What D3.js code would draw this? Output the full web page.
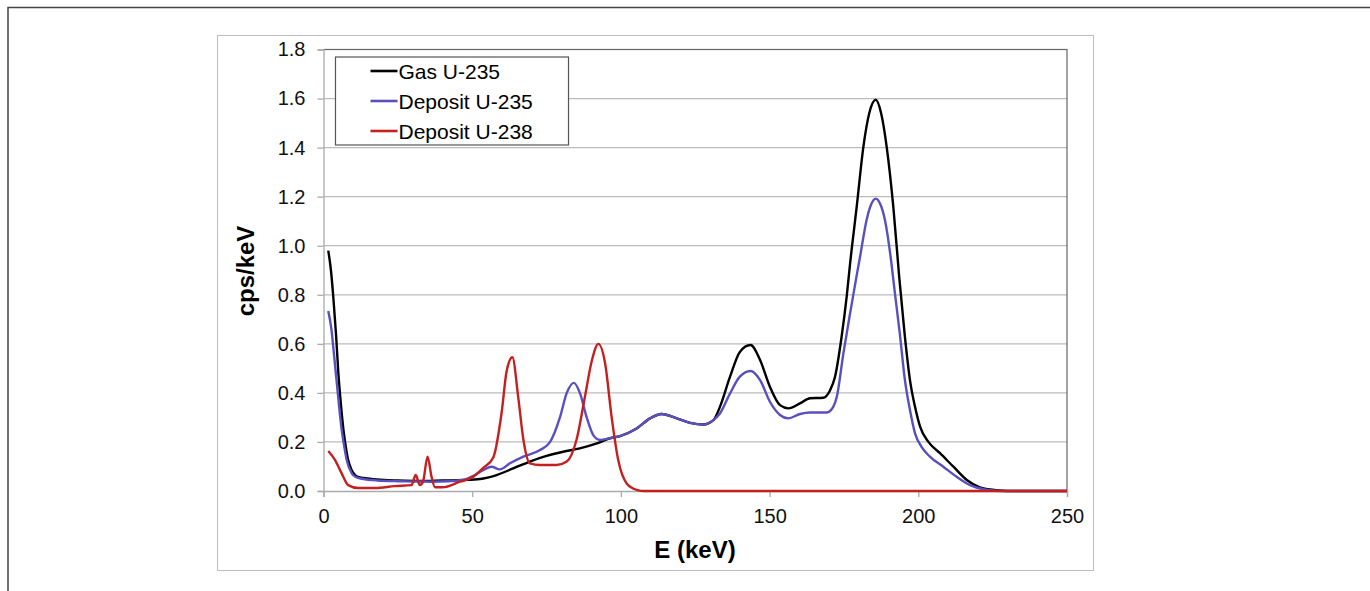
<!DOCTYPE html>
<html>
<head>
<meta charset="utf-8">
<script src="https://cdn.jsdelivr.net/npm/d3@7"></script>
<style>
  body { margin: 0; background: #fff; }
  svg { display: block; font-family: "Liberation Sans", Arial, sans-serif; }
</style>
</head>
<body>
<svg id="chart"></svg>
<script>
// series names
var seriesNames = ["Gas U-235", "Deposit U-235", "Deposit U-238"];
var seriesColors = ["#000000", "#5a4fbf", "#c42020"];

// Gas U-235 (E keV, cps/keV)
var gasE = [1.6, 2.5, 3.3, 4.2, 5.0, 5.8, 6.7, 7.5, 8.3, 9.5, 10.6, 12, 14, 18, 25, 32, 40, 47, 52.6, 58.2, 63.8, 69.4, 75, 80.6, 86.2, 91.9, 96.3, 99.7, 105.3, 109.8, 113.7, 118.8, 123.3, 127.7, 131.1, 133.3, 136.7, 140, 143.6, 146.8, 150.1, 153.5, 156.3, 160.2, 163.6, 168, 170.3, 172, 174.2, 175.9, 177, 179.3, 181.5, 183.5, 185.7, 187.5, 189.4, 191.6, 193.6, 195.5, 197.2, 198.9, 200.6, 203.4, 207.3, 211.8, 216.3, 220.7, 226.4, 230, 250];
var gasV = [0.98, 0.90, 0.79, 0.64, 0.48, 0.36, 0.25, 0.18, 0.126, 0.085, 0.065, 0.056, 0.052, 0.047, 0.043, 0.041, 0.043, 0.045, 0.049, 0.065, 0.092, 0.12, 0.143, 0.16, 0.174, 0.194, 0.215, 0.224, 0.255, 0.296, 0.314, 0.296, 0.278, 0.271, 0.289, 0.343, 0.466, 0.567, 0.595, 0.534, 0.425, 0.35, 0.337, 0.357, 0.378, 0.38, 0.41, 0.466, 0.628, 0.79, 0.92, 1.16, 1.40, 1.54, 1.595, 1.54, 1.40, 1.158, 0.87, 0.628, 0.452, 0.343, 0.262, 0.20, 0.154, 0.099, 0.045, 0.015, 0.003, 0, 0];

// Deposit U-235
var dep235E = [1.6, 2.7, 3.5, 4.4, 5.2, 6.1, 7.0, 7.8, 9.5, 11, 13, 18, 25, 32, 36, 42, 47, 50.4, 53.7, 56.5, 59.3, 62.7, 67.2, 72.8, 76.2, 79.5, 81.8, 84.2, 86.2, 88.5, 90.7, 93, 96.3, 99.7, 105.3, 109.8, 113.7, 118.8, 123.3, 127.7, 131.1, 133.3, 136.7, 140, 143.6, 146.8, 150.1, 153.5, 156.3, 160.2, 163.6, 169.2, 171.4, 172.6, 174.8, 177, 179.3, 180.4, 182.6, 184.2, 185.7, 187.2, 188.8, 190.7, 192, 193.8, 195.5, 197.2, 198.9, 201.1, 203.9, 208.4, 212.9, 217.4, 221.9, 226, 230, 250];
var dep235V = [0.734, 0.656, 0.56, 0.45, 0.35, 0.25, 0.18, 0.126, 0.072, 0.056, 0.05, 0.043, 0.04, 0.039, 0.038, 0.04, 0.045, 0.062, 0.085, 0.099, 0.088, 0.113, 0.14, 0.167, 0.20, 0.30, 0.40, 0.441, 0.40, 0.30, 0.228, 0.208, 0.215, 0.224, 0.255, 0.296, 0.314, 0.296, 0.278, 0.271, 0.289, 0.316, 0.398, 0.466, 0.489, 0.452, 0.364, 0.31, 0.296, 0.314, 0.32, 0.32, 0.343, 0.384, 0.56, 0.72, 0.88, 0.954, 1.104, 1.17, 1.192, 1.17, 1.104, 0.954, 0.82, 0.64, 0.452, 0.33, 0.235, 0.18, 0.14, 0.099, 0.058, 0.024, 0.007, 0.001, 0, 0];

// Deposit U-238
var dep238E = [1.6, 3.9, 6.1, 8.3, 11.7, 17.3, 24, 29.6, 31, 32.4, 33.5, 35, 36.3, 37.5, 40, 45.9, 50.4, 53.7, 57.1, 59.9, 61.6, 63.5, 65.5, 67.2, 69.4, 72.8, 78.4, 81.8, 85.1, 87.9, 90.2, 92.4, 94.7, 96.9, 99.1, 102, 105.3, 108, 250];
var dep238V = [0.163, 0.126, 0.072, 0.024, 0.012, 0.012, 0.02, 0.024, 0.065, 0.024, 0.04, 0.14, 0.06, 0.015, 0.015, 0.038, 0.058, 0.094, 0.137, 0.32, 0.49, 0.545, 0.38, 0.21, 0.113, 0.106, 0.106, 0.12, 0.21, 0.384, 0.53, 0.60, 0.52, 0.30, 0.126, 0.03, 0.005, 0, 0];

var xTicks = [0, 50, 100, 150, 200, 250];
var yTicks = [0, 0.2, 0.4, 0.6, 0.8, 1.0, 1.2, 1.4, 1.6, 1.8];

var W = 1370, H = 591;
var margin = {top: 49.5, right: 303, bottom: 100, left: 323.5},
    width = W - margin.left - margin.right,
    height = H - margin.top - margin.bottom;

var svg = d3.select("#chart").attr("width", W).attr("height", H);

// outer frame (top and left edges only)
svg.append("path")
    .attr("d", "M8,591V7.5H1370")
    .attr("fill", "none")
    .attr("stroke", "#444")
    .attr("stroke-width", 1.5);

// chart area border
svg.append("rect")
    .attr("x", 217.5).attr("y", 35.5)
    .attr("width", 876).attr("height", 535)
    .attr("fill", "none")
    .attr("stroke", "#bdbdbd");

var g = svg.append("g")
    .attr("transform", "translate(" + margin.left + "," + margin.top + ")");

var x = d3.scaleLinear().domain([0, 250]).range([0, width]);
var y = d3.scaleLinear().domain([0, 1.8]).range([height, 0]);

// gridlines
g.append("g")
  .selectAll("line")
  .data(yTicks.slice(1))
  .enter().append("line")
    .attr("x1", 0).attr("x2", width)
    .attr("y1", function(d) { return y(d); })
    .attr("y2", function(d) { return y(d); })
    .attr("stroke", "#bcbcbc")
    .attr("stroke-width", 1.3);

// plot frame top + right
g.append("path")
    .attr("d", "M0," + y(1.8) + "H" + width + "V" + height)
    .attr("fill", "none")
    .attr("stroke", "#666")
    .attr("stroke-width", 1.2);

// y axis
var yAxis = g.append("g")
    .call(d3.axisLeft(y).tickValues(yTicks).tickSize(6).tickPadding(12)
      .tickFormat(d3.format(".1f")));
yAxis.select(".domain").attr("stroke", "#aaa").attr("stroke-width", 1.3);
yAxis.selectAll(".tick line").attr("stroke", "#aaa").attr("stroke-width", 1.3);
yAxis.selectAll("text").attr("font-size", 20).attr("fill", "#111")
    .attr("font-family", "Liberation Sans, Arial, sans-serif");

// x axis
var xAxis = g.append("g")
    .attr("transform", "translate(0," + height + ")")
    .call(d3.axisBottom(x).tickValues(xTicks).tickSize(6).tickPadding(12));
xAxis.select(".domain").attr("stroke", "#aaa").attr("stroke-width", 1.3);
xAxis.selectAll(".tick line").attr("stroke", "#aaa").attr("stroke-width", 1.3);
xAxis.selectAll("text").attr("font-size", 20).attr("fill", "#111")
    .attr("font-family", "Liberation Sans, Arial, sans-serif");

// lines
var line = d3.line()
    .x(function(d) { return x(d[0]); })
    .y(function(d) { return y(d[1]); })
    .curve(d3.curveMonotoneX);

var series = [
  d3.zip(gasE, gasV),
  d3.zip(dep235E, dep235V),
  d3.zip(dep238E, dep238V)
];

// black, then blue over it, then red on top
series.forEach(function(s, i) {
  g.append("path")
      .datum(s)
      .attr("fill", "none")
      .attr("stroke", seriesColors[i])
      .attr("stroke-width", 2.4)
      .attr("stroke-linejoin", "round")
      .attr("d", line);
});

// axis titles
svg.append("text")
    .attr("x", 695).attr("y", 558)
    .attr("text-anchor", "middle")
    .attr("font-size", 24).attr("font-weight", "bold")
    .text("E (keV)");

svg.append("text")
    .attr("transform", "translate(254,271) rotate(-90)")
    .attr("text-anchor", "middle")
    .attr("font-size", 24).attr("font-weight", "bold")
    .text("cps/keV");

// legend
var legend = svg.append("g").attr("transform", "translate(335.5,57)");
legend.append("rect")
    .attr("width", 233).attr("height", 88)
    .attr("fill", "#fff")
    .attr("stroke", "#555")
    .attr("stroke-width", 1.2);

seriesNames.forEach(function(name, i) {
  var ly = 14 + i * 30;
  legend.append("line")
      .attr("x1", 35).attr("x2", 62)
      .attr("y1", ly).attr("y2", ly)
      .attr("stroke", seriesColors[i])
      .attr("stroke-width", 2.6);
  legend.append("text")
      .attr("x", 63).attr("y", ly + 7.5)
      .attr("font-size", 21)
      .text(name);
});
</script>
</body>
</html>
